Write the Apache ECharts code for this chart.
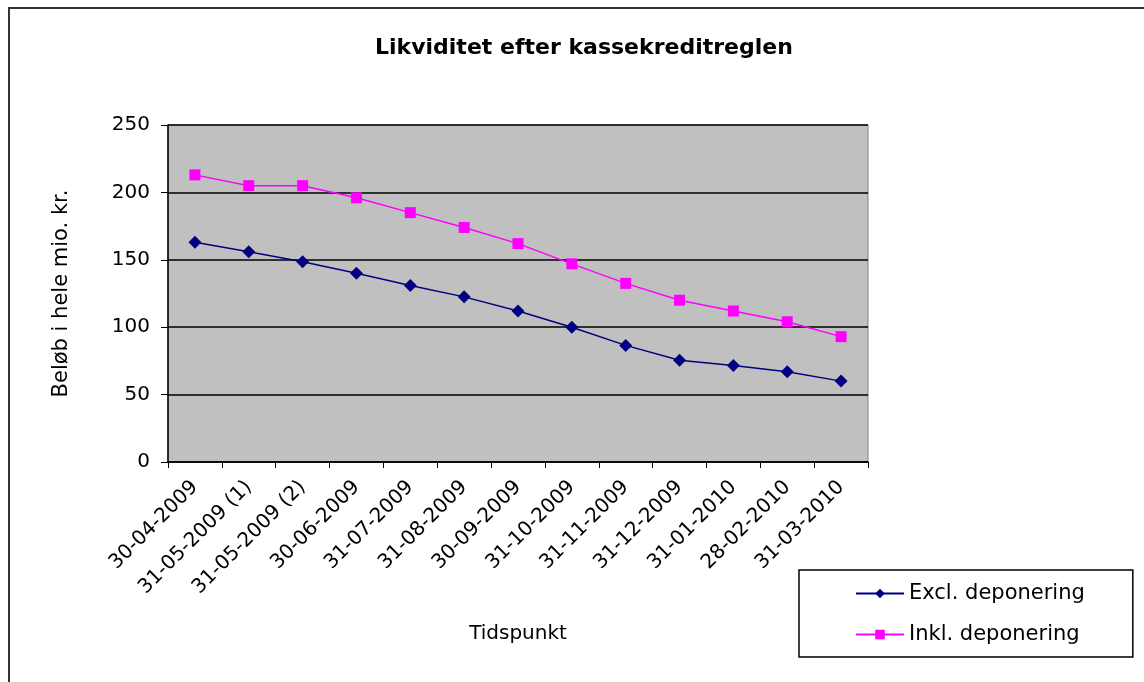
<!DOCTYPE html>
<html>
<head>
<meta charset="utf-8">
<script src="https://cdn.jsdelivr.net/npm/echarts@6/dist/echarts.min.js"></script>
<style>
  html, body { margin: 0; padding: 0; background: #fff; }
  #chart { width: 1144px; height: 682px; }
</style>
</head>
<body>
<div id="chart"></div>
<script>
// datoer (x-akse)
var categories = ['30-04-2009', '31-05-2009 (1)', '31-05-2009 (2)', '30-06-2009', '31-07-2009',
  '31-08-2009', '30-09-2009', '31-10-2009', '31-11-2009', '31-12-2009', '31-01-2010',
  '28-02-2010', '31-03-2010'];
var exclValues = [163, 156, 148.5, 140, 131, 122.5, 112, 100, 86.5, 75.5, 71.5, 67, 60];
var inklValues = [213, 205, 205, 196, 185, 174, 162, 147, 132.5, 120, 112, 104, 93];
var seriesNames = ['Excl. deponering', 'Inkl. deponering'];

var font = 'DejaVu Sans, Arial, sans-serif';
var chart = echarts.init(document.getElementById('chart'));

chart.setOption({
  animation: false,
  textStyle: { fontFamily: font, color: '#000' },
  title: {
    text: 'Likviditet efter kassekreditreglen',
    left: 370,
    top: 32,
    textStyle: { fontSize: 22, fontWeight: 'bold', color: '#000', fontFamily: font }
  },
  graphic: [{
    type: 'rect',
    shape: { x: 9, y: 8, width: 1200, height: 720 },
    style: { fill: 'none', stroke: '#333', lineWidth: 2 },
    silent: true
  }],
  legend: {
    orient: 'vertical',
    left: 799,
    top: 570,
    padding: [13, 48, 12, 56],
    itemGap: 20,
    itemWidth: 48,
    itemHeight: 12,
    borderColor: '#000',
    borderWidth: 1.5,
    textStyle: { fontSize: 21, color: '#000', fontFamily: font },
    data: seriesNames
  },
  grid: {
    left: 168, top: 125, right: 276, bottom: 220,
    show: true,
    backgroundColor: '#c0c0c0',
    borderColor: '#808080',
    borderWidth: 1
  },
  xAxis: {
    type: 'category',
    data: categories,
    boundaryGap: true,
    name: 'Tidspunkt',
    nameLocation: 'middle',
    nameGap: 162,
    nameTextStyle: { fontSize: 20, color: '#000' },
    axisLine: { lineStyle: { color: '#000', width: 1.5 } },
    axisTick: { show: true, length: 6, interval: 0, lineStyle: { color: '#000' } },
    axisLabel: { rotate: 45, interval: 0, fontSize: 20, color: '#000', margin: 22 }
  },
  yAxis: {
    type: 'value',
    min: 0, max: 250, interval: 50,
    name: 'Beløb i hele mio. kr.',
    nameLocation: 'middle',
    nameRotate: 90,
    nameGap: 96,
    nameTextStyle: { fontSize: 21, color: '#000' },
    axisLine: { show: true, lineStyle: { color: '#000', width: 1.5 } },
    axisTick: { show: true, length: 7, lineStyle: { color: '#000' } },
    axisLabel: { fontSize: 20, color: '#000', margin: 18 },
    splitLine: { show: true, lineStyle: { color: '#000', width: 1.5 } }
  },
  series: [{
    name: seriesNames[0],
    type: 'line',
    data: exclValues,
    symbol: 'diamond',
    symbolSize: 13,
    itemStyle: { color: '#000080' },
    lineStyle: { color: '#000080', width: 1.5 }
  }, {
    name: seriesNames[1],
    type: 'line',
    data: inklValues,
    symbol: 'rect',
    symbolSize: 11,
    itemStyle: { color: '#ff00ff' },
    lineStyle: { color: '#ff00ff', width: 1.5 }
  }]
});
</script>
</body>
</html>
